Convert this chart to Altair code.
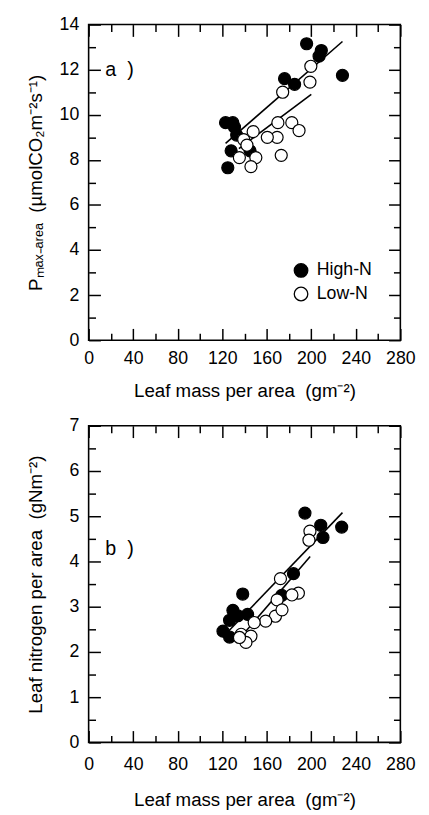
import altair as alt
import pandas as pd

FONT = "Liberation Sans"

# ---------------- Panel a data (Pmax-area vs LMA) ----------------
lma_high_a = [123, 129.5, 131, 133, 128, 125, 145, 176, 185, 195.8, 209, 207, 228]
pmax_high_a = [9.65, 9.65, 9.45, 9.1, 8.4, 7.65, 8.4, 11.6, 11.35, 13.15, 12.85, 12.6, 11.75]
lma_low_a = [199.6, 198.8, 174.3, 170, 182.5, 189, 169.3, 160.5, 147.8, 139.3, 142.2, 135.4, 150.2, 145.8, 173]
pmax_low_a = [12.15, 11.45, 11.0, 9.65, 9.65, 9.3, 9.0, 9.0, 9.25, 8.9, 8.65, 8.1, 8.1, 7.7, 8.2]
fit_lma_high_a = [123, 228]
fit_val_high_a = [8.73, 13.25]
fit_lma_low_a = [135, 200]
fit_val_low_a = [8.5, 10.9]

# ---------------- Panel b data (N per area vs LMA) ----------------
lma_high_b = [194.3, 208.5, 210.5, 227.3, 184, 173.5, 138.4, 129.6, 142.8, 120.7, 126.6, 126.6, 134]
n_high_b = [5.07, 4.8, 4.53, 4.76, 3.73, 3.25, 3.28, 2.92, 2.83, 2.46, 2.33, 2.7, 2.8]
lma_low_b = [198.8, 197.9, 172.3, 188.4, 182.6, 169.3, 167.8, 173.7, 159, 148.7, 137, 145.8, 141.3, 135.5]
n_low_b = [4.67, 4.47, 3.62, 3.3, 3.26, 3.15, 2.79, 2.93, 2.68, 2.65, 2.39, 2.35, 2.21, 2.32]
fit_lma_high_b = [121, 228]
fit_val_high_b = [2.34, 5.08]
fit_lma_low_b = [136, 199]
fit_val_low_b = [2.31, 4.11]

groups = ["High-N", "Low-N"]
x_major = [0, 40, 80, 120, 160, 200, 240, 280]
x_minor = [20, 60, 100, 140, 180, 220, 260]
ya_major = [0, 2, 4, 6, 8, 10, 12, 14]
ya_minor = [1, 3, 5, 7, 9, 11, 13]
yb_major = [0, 1, 2, 3, 4, 5, 6, 7]
yb_minor = [0.5, 1.5, 2.5, 3.5, 4.5, 5.5, 6.5]

x_title = "Leaf mass per area\u00a0 (gm\u207b\u00b2)"
ya_title = "P\u2098\u2090\u2093\u208b\u2090\u1d63\u2091\u2090\u00a0 (\u00b5molCO\u2082m\u207b\u00b2s\u207b\u00b9)"
yb_title = "Leaf nitrogen per area\u00a0 (gNm\u207b\u00b2)"


def make_df(lh, vh, ll, vl):
    return pd.DataFrame({
        "lma": lh + ll,
        "val": vh + vl,
        "group": [groups[0]] * len(lh) + [groups[1]] * len(ll),
    })


MAJ, MIN = 12, 7


def axis(orient, values, size, labels=False, title=None, title_pad=0, label_pad=10):
    kw = dict(orient=orient, values=values, tickSize=size, offset=-size,
              domain=False, grid=False, tickColor="black", tickWidth=1.5,
              labels=labels)
    if labels:
        kw.update(labelFont=FONT, labelFontSize=18, labelColor="black",
                  labelPadding=label_pad, labelFlush=False, labelOverlap=False)
    if title:
        kw.update(title=title, titleFont=FONT, titleFontSize=19,
                  titleFontWeight="normal", titleColor="black",
                  titlePadding=title_pad)
    return alt.Axis(**kw)


def panel(df, fit, ymax, ymaj, ymin, ytitle, ytp, tag, tag_x, tag_y, legend, h,
          xlp, xtp):
    xs = alt.Scale(domain=[0, 280], nice=False, zero=False)
    ys = alt.Scale(domain=[0, ymax], nice=False, zero=False)
    base = alt.Chart(df)

    def ax_layer(xax=None, yax=None):
        enc = {}
        enc["x"] = alt.X("lma:Q", scale=xs, axis=xax, title=None) if xax else alt.X("lma:Q", scale=xs, axis=None)
        enc["y"] = alt.Y("val:Q", scale=ys, axis=yax, title=None) if yax else alt.Y("val:Q", scale=ys, axis=None)
        return base.mark_point(opacity=0).encode(**enc)

    lines = alt.Chart(fit).mark_line(color="black", strokeWidth=1.6).encode(
        x=alt.X("lma:Q", scale=xs, axis=None),
        y=alt.Y("val:Q", scale=ys, axis=None),
        detail="group:N",
    )
    fill_scale = alt.Scale(domain=groups, range=["black", "white"])
    if legend:
        leg = alt.Legend(orient="none", legendX=207, legendY=241, title=None,
                         symbolType="circle", symbolSize=190,
                         symbolStrokeColor="black", symbolStrokeWidth=1.3,
                         labelFont=FONT, labelFontSize=18, labelColor="black",
                         labelOffset=7, rowPadding=4, padding=0)
    else:
        leg = None
    pts = base.mark_circle(size=150, stroke="black", strokeWidth=1.2, opacity=1).encode(
        x=alt.X("lma:Q", scale=xs, axis=axis("bottom", x_major, MAJ, True, x_title, xtp, xlp)),
        y=alt.Y("val:Q", scale=ys, axis=axis("left", ymaj, MAJ, True, ytitle, ytp)),
        fill=alt.Fill("group:N", scale=fill_scale, legend=leg),
        order=alt.Order("ord:Q"),
    ).transform_calculate(ord="datum.group == 'High-N' ? 0 : 1")
    tag_df = pd.DataFrame({"lma": [tag_x], "val": [tag_y], "t": [tag]})
    label = alt.Chart(tag_df).mark_text(align="left", baseline="middle", font=FONT,
                                        fontSize=20, color="black").encode(
        x=alt.X("lma:Q", scale=xs, axis=None),
        y=alt.Y("val:Q", scale=ys, axis=None),
        text="t:N",
    )
    layers = [
        lines, pts,
        ax_layer(xax=axis("bottom", x_minor, MIN)),
        ax_layer(xax=axis("top", x_major, MAJ)),
        ax_layer(xax=axis("top", x_minor, MIN)),
        ax_layer(yax=axis("left", ymin, MIN)),
        ax_layer(yax=axis("right", ymaj, MAJ)),
        ax_layer(yax=axis("right", ymin, MIN)),
        label,
    ]
    return alt.layer(*layers).resolve_axis(x="independent", y="independent").properties(
        width=317, height=h)


df_a = make_df(lma_high_a, pmax_high_a, lma_low_a, pmax_low_a)
fit_a = make_df(fit_lma_high_a, fit_val_high_a, fit_lma_low_a, fit_val_low_a)
df_b = make_df(lma_high_b, n_high_b, lma_low_b, n_low_b)
fit_b = make_df(fit_lma_high_b, fit_val_high_b, fit_lma_low_b, fit_val_low_b)

pa = panel(df_a, fit_a, 14, ya_major, ya_minor, ya_title, 14, "a\u00a0 )", 15, 12.0, True, 321, 10, 14)
pb = panel(df_b, fit_b, 7, yb_major, yb_minor, yb_title, 24, "b\u00a0 )", 15, 4.28, False, 322, 14, 17)

chart = alt.vconcat(pa, pb, spacing=15).resolve_scale(fill="independent").configure_view(
    stroke="black", strokeWidth=1.6
).properties(padding={"left": 18, "top": 0, "right": 5, "bottom": 0})

chart.save("out.html", embed_options={"renderer": "svg", "actions": False})
